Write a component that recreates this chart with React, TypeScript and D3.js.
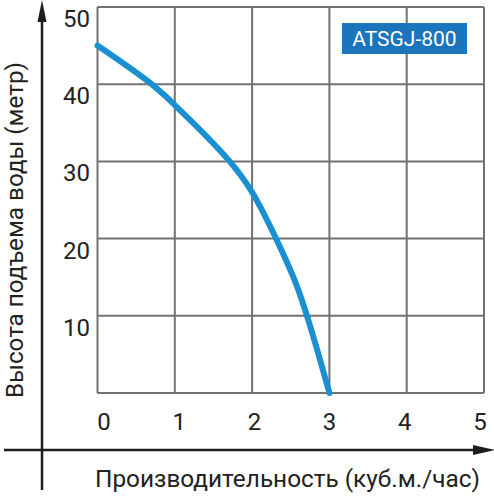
import React from "react";
import * as d3 from "d3";

const flow = [0, 0.7, 1, 1.71, 2, 2.53, 2.71, 3];
const head = [45, 40, 37.3, 30, 26, 15.1, 10, 0];
const xTicks = [0, 1, 2, 3, 4, 5];
const yTicks = [10, 20, 30, 40, 50];
const xTitle = "Производительность (куб.м./час)";
const yTitle = "Высота подъема воды (метр)";
const badge = "ATSGJ-800";

const W = 494, H = 498;
const FONT = "Roboto, 'DejaVu Sans', sans-serif";

export default function App() {
  const x = d3.scaleLinear().domain([0, 5]).range([97.5, 484]);
  const y = d3.scaleLinear().domain([0, 50]).range([393, 7]);
  const xLab = d3.scaleLinear().domain([0, 5]).range([104, 480]);
  const line = d3
    .line<number>()
    .x((_, i) => x(flow[i]))
    .y((d) => y(d))
    .curve(d3.curveCatmullRom.alpha(0.5));
  const grid = "#727272";
  const axis = "#1e1e1e";
  return (
    <svg width={W} height={H} style={{ position: "absolute", left: 0, top: 0, background: "#fff" }}>
      {xTicks.map((t) => (
        <line key={"gx" + t} x1={x(t)} x2={x(t)} y1={y(0)} y2={y(50)} stroke={grid} strokeWidth={2} />
      ))}
      {[0, ...yTicks].map((t) => (
        <line key={"gy" + t} x1={x(0)} x2={x(5)} y1={y(t)} y2={y(t)} stroke={grid} strokeWidth={2} />
      ))}
      <path d={line(head) || ""} fill="none" stroke="#1a8fd2" strokeWidth={6} strokeLinecap="round" />
      <line x1={42} x2={42} y1={18} y2={490} stroke={axis} strokeWidth={2.5} />
      <path d="M42,0 L46.5,22 L37.5,22 Z" fill={axis} />
      <line x1={4} x2={476} y1={450} y2={450} stroke={axis} strokeWidth={2.5} />
      <path d="M495,450 L473,445 L473,455 Z" fill={axis} />
      {yTicks.map((t) => (
        <text key={"yl" + t} x={90} y={y(t) + 20} textAnchor="end" fontFamily={FONT} fontSize={24} fill="#222">
          {t}
        </text>
      ))}
      {xTicks.map((t) => (
        <text key={"xl" + t} x={xLab(t)} y={430} textAnchor="middle" fontFamily={FONT} fontSize={24} fill="#222">
          {t}
        </text>
      ))}
      <text x={95} y={487} fontFamily={FONT} fontSize={24} fill="#222" textLength={385} lengthAdjust="spacingAndGlyphs">
        {xTitle}
      </text>
      <text
        transform="translate(23,398) rotate(-90)"
        x={0}
        y={0}
        fontFamily={FONT}
        fontSize={24}
        fill="#222"
        textLength={336}
        lengthAdjust="spacingAndGlyphs"
      >
        {yTitle}
      </text>
      <rect x={342} y={23} width={125} height={31} fill="#1b75bc" />
      <text x={404.5} y={46} textAnchor="middle" fontFamily={FONT} fontSize={21} fill="#fff">
        {badge}
      </text>
    </svg>
  );
}
